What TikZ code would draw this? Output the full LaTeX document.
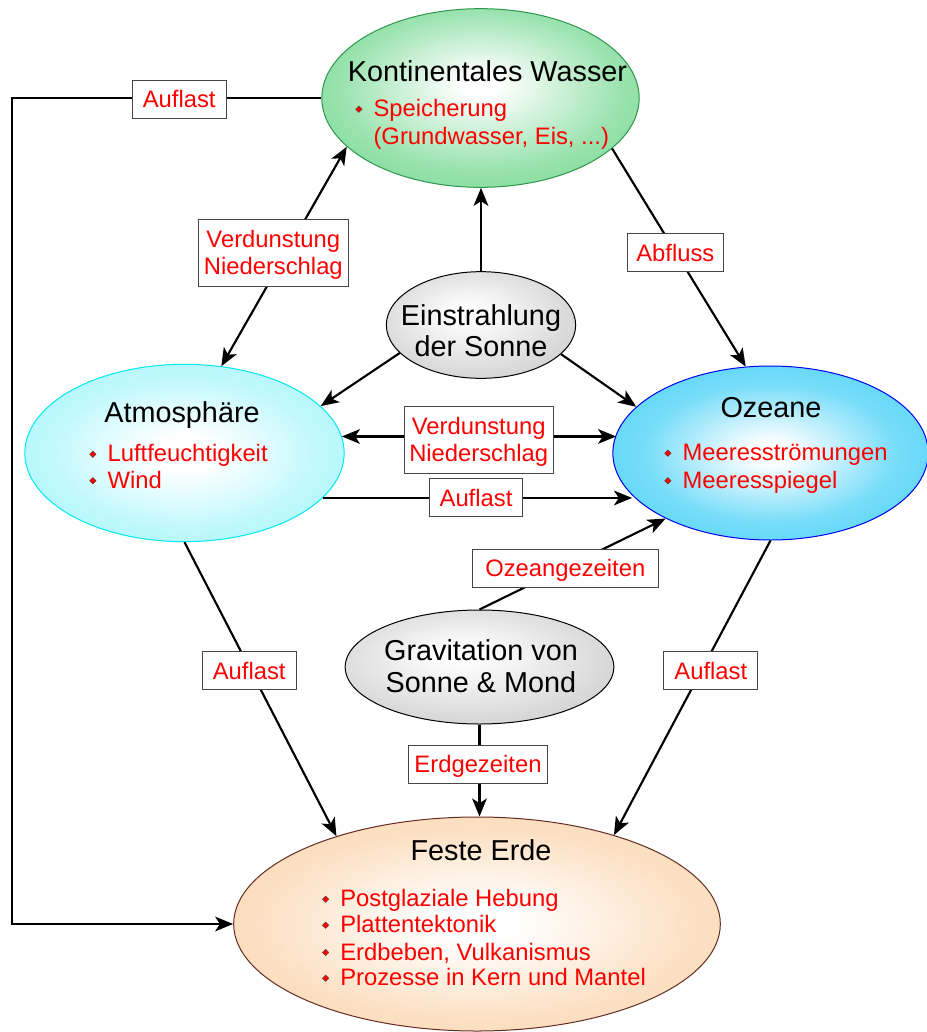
\documentclass[tikz,border=0pt]{standalone}
\usepackage{fontspec}
\setmainfont{Liberation Sans}
\usetikzlibrary{shapes.geometric,arrows.meta}
\definecolor{kwgreen}{RGB}{72,204,110}
\definecolor{kwborder}{RGB}{45,150,75}
\definecolor{atmcyan}{RGB}{145,244,250}
\definecolor{atmborder}{RGB}{0,232,242}
\definecolor{ozblue}{RGB}{28,198,245}
\definecolor{ozborder}{RGB}{0,0,235}
\definecolor{erdeor}{RGB}{250,200,148}
\definecolor{erdeborder}{RGB}{100,45,35}
\definecolor{sgray}{RGB}{176,176,176}
\definecolor{boxgray}{RGB}{70,70,70}
\colorlet{ozmid}{ozblue!60!white}
\colorlet{kwmid}{kwgreen!55!white}
\colorlet{atmmid}{atmcyan!60!white}
\colorlet{erdemid}{erdeor!55!white}
\pgfdeclareradialshading{kwshade}{\pgfpoint{0bp}{4bp}}{color(0bp)=(white);color(3bp)=(white);color(22bp)=(kwmid);color(50bp)=(kwgreen)}
\pgfdeclareradialshading{atmshade}{\pgfpoint{0bp}{0bp}}{color(0bp)=(white);color(5bp)=(white);color(22bp)=(atmmid);color(50bp)=(atmcyan)}
\pgfdeclareradialshading{ozshade}{\pgfpoint{0bp}{0bp}}{color(0bp)=(white);color(3bp)=(white);color(20bp)=(ozmid);color(50bp)=(ozblue)}
\pgfdeclareradialshading{erdeshade}{\pgfpoint{0bp}{0bp}}{color(0bp)=(white);color(4bp)=(white);color(22bp)=(erdemid);color(50bp)=(erdeor)}
\pgfdeclareradialshading{grayshade}{\pgfpoint{-4bp}{6bp}}{color(0bp)=(white);color(3bp)=(white);color(50bp)=(sgray)}
\begin{document}
\begin{tikzpicture}[x=0.75pt,y=-0.75pt,
  ell/.style={ellipse,inner sep=0pt,line width=0.75pt},
  tip/.tip={Stealth[length=13.5pt,width=11pt,inset=3.5pt]},
  conn/.style={line width=1.6pt,-tip},
  twoway/.style={line width=1.6pt,tip-tip},
  ttl/.style={inner sep=0pt,font=\fontsize{21.6}{26}\selectfont,anchor=base},
  itm/.style={inner sep=0pt,font=\fontsize{17.85}{20}\selectfont,text=red,anchor=base west},
  bul/.style={diamond,draw=black!75,fill=red,line width=0.3pt,inner sep=0pt,minimum size=5pt},
  lbl/.style={draw=boxgray,line width=0.75pt,fill=white,text=red,font=\fontsize{17.85}{20}\selectfont,inner sep=0pt,minimum height=28.5pt,text height=12.8pt,text depth=0pt},
  lbltwo/.style={draw=boxgray,line width=0.75pt,fill=white,text=red,font=\fontsize{17.85}{20}\selectfont,inner sep=0pt,minimum height=50pt,text height=12.8pt,text depth=20.6pt}
]
\useasboundingbox (0,0) rectangle (927,1032);

% ellipses
\node[ell,shading=kwshade,draw=kwborder,minimum width=238pt,minimum height=134pt] (kw) at (480.5,98) {};
\node[ell,shading=atmshade,draw=atmborder,minimum width=239.5pt,minimum height=133pt] (atm) at (184.5,453) {};
\node[ell,shading=ozshade,draw=ozborder,minimum width=236.5pt,minimum height=130.5pt] (oze) at (770.5,453) {};
\node[ell,shading=erdeshade,draw=erdeborder,minimum width=365pt,minimum height=160.5pt] (erde) at (477,924) {};
\node[ell,shading=grayshade,draw=black,minimum width=142pt,minimum height=80pt] (sun) at (481,325) {};
\node[ell,shading=grayshade,draw=black,minimum width=201.5pt,minimum height=85.5pt] (grav) at (479.5,667) {};

% connectors
\coordinate (lc) at (12,500);
\draw[conn] (kw.west) -| (lc) |- (erde.west);
\draw[twoway] (kw.200.3) -- (atm.67.4);
\draw[conn] (kw.339.3) -- (oze.106.2);
\draw[conn] (sun.north) -- (sun.north |- kw.south);
\draw[conn] (sun.199) -- (atm.19.9);
\draw[conn] (sun.340.7) -- (oze.161.5);
\draw[twoway] (atm.6.2) -- (atm.6.2 -| oze.173.7);
\draw[conn] (atm.342.36) -- (atm.342.36 -| oze.197.94);
\draw[conn] (grav.north) -- (oze.212.4);
\draw[conn] (grav.south) -- (grav.south |- erde.north);
\draw[conn] (atm.south) -- (erde.148.7);
\draw[conn] (oze.south) -- (erde.33);

% labels
\node[lbl,minimum width=70.3pt] (lAufTL) at (179.2,99.2) {Auflast};
\node[lbltwo,minimum width=112.5pt] (lVN1) at (273.3,252.7) {\vtop{\halign{\hfil#\hfil\cr Verdunstung\cr Niederschlag\cr}}};
\node[lbl,minimum width=72pt] (lAbfl) at (675.3,252.5) {Abfluss};
\node[lbltwo,minimum width=111.8pt] (lVN2) at (478.7,440) {\vtop{\halign{\hfil#\hfil\cr Verdunstung\cr Niederschlag\cr}}};
\node[lbl,minimum width=70pt] (lAufM) at (476,497.7) {Auflast};
\node[lbl,minimum width=139.5pt] (lOzg) at (565.3,568.3) {Ozeangezeiten};
\node[lbl,minimum width=70.3pt] (lAufL) at (249.2,670.8) {Auflast};
\node[lbl,minimum width=70.3pt] (lAufR) at (710.8,670.8) {Auflast};
\node[lbl,minimum width=104.5pt] (lErdg) at (478,764.2) {Erdgezeiten};

% titles
\node[ttl] (kwt) at (487.5,81) {Kontinentales Wasser};
\node[ttl] (atmt) at (182,422.7) {Atmosphäre};
\node[ttl] (ozt) at (771,417.3) {Ozeane};
\node[ttl] (erdet) at (481,860) {Feste Erde};
\node[ttl] (sun1) at (481,325) {Einstrahlung};
\node[ttl] (sun2) at (481,356.5) {der Sonne};
\node[ttl] (grav1) at (481,660) {Gravitation von};
\node[ttl] (grav2) at (481,692.3) {Sonne \& Mond};

% items
\node[itm] (kw1) at (373.3,116.7) {Speicherung};
\node[itm] (kw2) at (373.3,144.5) {(Grundwasser, Eis, ...)};
\node[itm] (at1) at (107.3,461.7) {Luftfeuchtigkeit};
\node[itm] (at2) at (107.3,488.3) {Wind};
\node[itm] (oz1) at (682.3,460.7) {Meeresströmungen};
\node[itm] (oz2) at (682.3,488.3) {Meeresspiegel};
\node[itm] (er1) at (340,906.7) {Postglaziale Hebung};
\node[itm] (er2) at (340,932.7) {Plattentektonik};
\node[itm] (er3) at (340,960) {Erdbeben, Vulkanismus};
\node[itm] (er4) at (340,985.7) {Prozesse in Kern und Mantel};

% bullets
\node[bul] (bkw1) at ([shift={(-14.4,-7.5)}]kw1.base west) {};
\node[bul] (bat1) at ([shift={(-14.4,-7.5)}]at1.base west) {};
\node[bul] (bat2) at ([shift={(-14.4,-7.5)}]at2.base west) {};
\node[bul] (boz1) at ([shift={(-14.4,-7.5)}]oz1.base west) {};
\node[bul] (boz2) at ([shift={(-14.4,-7.5)}]oz2.base west) {};
\node[bul] (ber1) at ([shift={(-14.4,-7.5)}]er1.base west) {};
\node[bul] (ber2) at ([shift={(-14.4,-7.5)}]er2.base west) {};
\node[bul] (ber3) at ([shift={(-14.4,-7.5)}]er3.base west) {};
\node[bul] (ber4) at ([shift={(-14.4,-7.5)}]er4.base west) {};
\end{tikzpicture}
\end{document}
